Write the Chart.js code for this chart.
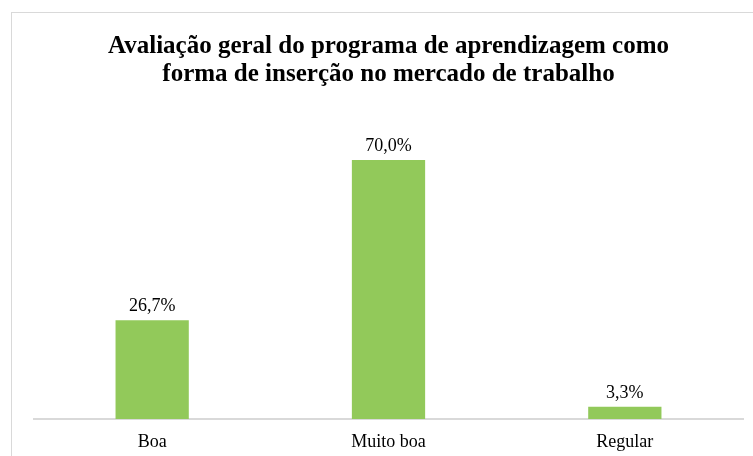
<!DOCTYPE html>
<html lang="pt">
<head>
    <meta charset="UTF-8">
    <title>Avaliação geral do programa de aprendizagem</title>
    <script src="https://cdn.jsdelivr.net/npm/chart.js"></script>
    <style>
        body { margin: 0; background: #fff; }
        #wrap { width: 753px; height: 456px; position: relative; }
    </style>
</head>
<body>
    <div id="wrap">
        <canvas id="avaliacaoChart" width="753" height="456"></canvas>
    </div>

    <script>
        const categorias = ['Boa', 'Muito boa', 'Regular'];
        const percentuais = [26.7, 70.0, 3.3];
        const tituloLinhas = ['Avaliação geral do programa de aprendizagem como', 'forma de inserção no mercado de trabalho'];

        const serif = '"Liberation Serif", "Times New Roman", serif';

        // moldura cinza do gráfico (vai além da borda direita/inferior)
        const moldura = {
            id: 'moldura',
            beforeDraw(chart) {
                const ctx = chart.ctx;
                ctx.save();
                ctx.fillStyle = '#fff';
                ctx.fillRect(0, 0, chart.width, chart.height);
                ctx.strokeStyle = '#d9d9d9';
                ctx.lineWidth = 1;
                ctx.strokeRect(11.5, 12.5, 800, 500);
                ctx.restore();
            }
        };

        // rótulos de valor acima das barras
        const rotulos = {
            id: 'rotulos',
            afterDatasetsDraw(chart) {
                const ctx = chart.ctx;
                const meta = chart.getDatasetMeta(0);
                ctx.save();
                ctx.font = '18px ' + serif;
                ctx.fillStyle = '#000';
                ctx.textAlign = 'center';
                ctx.textBaseline = 'middle';
                meta.data.forEach((bar, i) => {
                    const txt = percentuais[i].toFixed(1).replace('.', ',') + '%';
                    ctx.fillText(txt, bar.x, bar.y - 14);
                });
                ctx.restore();
            }
        };

        const ctx = document.getElementById('avaliacaoChart').getContext('2d');
        new Chart(ctx, {
            type: 'bar',
            data: {
                labels: categorias,
                datasets: [{
                    data: percentuais,
                    backgroundColor: '#92c95a',
                    categoryPercentage: 1,
                    barPercentage: 0.31
                }]
            },
            options: {
                responsive: false,
                animation: false,
                layout: { padding: { left: 34, right: 10, top: 0, bottom: 0 } },
                plugins: {
                    legend: { display: false },
                    tooltip: { enabled: false },
                    title: {
                        display: true,
                        text: tituloLinhas,
                        color: '#000',
                        font: { family: serif, size: 25, weight: 'bold', lineHeight: 1.12 },
                        padding: { top: 33, bottom: 34 }
                    }
                },
                scales: {
                    x: {
                        grid: { display: false, drawTicks: false },
                        border: { color: '#d9d9d9', width: 2 },
                        ticks: { color: '#000', font: { family: serif, size: 18 }, padding: 12 },
                        afterFit(scale) { scale.height = 37; }
                    },
                    y: {
                        display: false,
                        min: 0,
                        max: 80
                    }
                }
            },
            plugins: [moldura, rotulos]
        });
    </script>
</body>
</html>
